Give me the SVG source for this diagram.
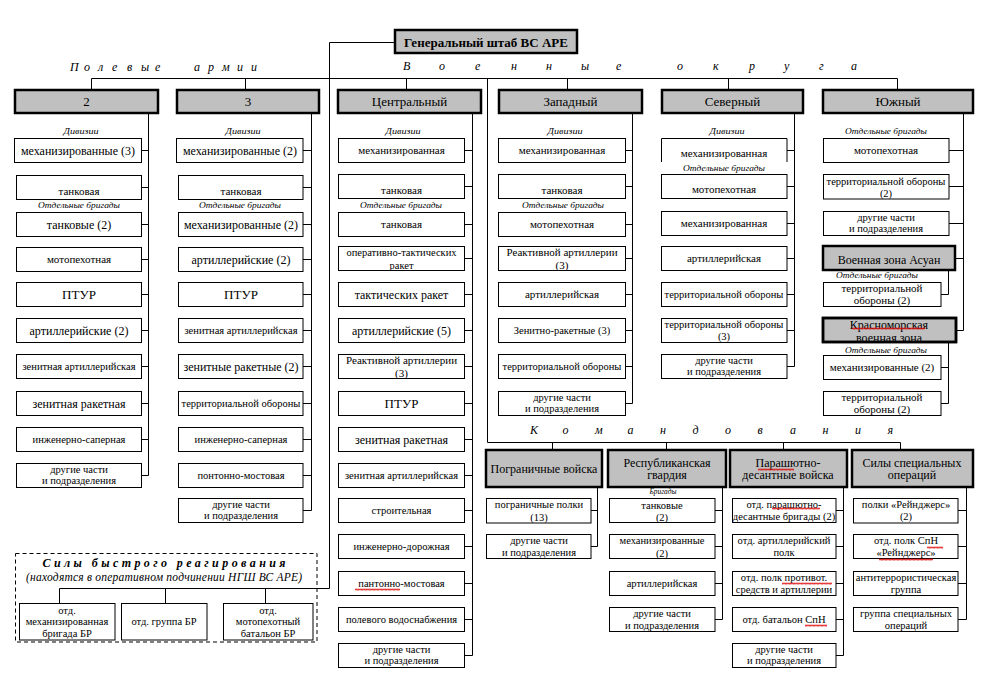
<svg xmlns="http://www.w3.org/2000/svg" width="995" height="689" viewBox="0 0 995 689" font-family="'Liberation Serif', 'Times New Roman', serif">
<style>
text{font-family:'Liberation Serif','Times New Roman',Times,serif;fill:#000;text-anchor:middle;font-size:11px}
.s{font-size:10.5px}
.m{font-size:12px}
.L{font-size:13px}
.hd{fill:#c0c0c0;stroke:#000;stroke-width:2.5}
.bx{fill:#fff;stroke:#000;stroke-width:1}
.cn{stroke:#000;stroke-width:1;fill:none}
.lb{font-style:italic;font-size:8.5px}
.sp{font-style:italic;font-size:12px;text-anchor:start}
.sq{fill:url(#sq)}
</style>
<defs>
<pattern id="sq" width="4" height="3" patternUnits="userSpaceOnUse"><path d="M0 2.5L1 0.7L2 2.5L3 0.7L4 2.5" stroke="#e00000" stroke-width="0.8" fill="none"/></pattern>
<clipPath id="k1"><rect x="338" y="246" width="127" height="24"/></clipPath>
<clipPath id="k2"><rect x="338" y="354" width="127" height="24"/></clipPath>
<clipPath id="k3"><rect x="498" y="246" width="128" height="24"/></clipPath>
<clipPath id="k4"><rect x="823" y="318" width="133" height="23"/></clipPath>
<clipPath id="k5"><rect x="486" y="498" width="105" height="25"/></clipPath>
<clipPath id="k6"><rect x="609" y="498" width="106" height="24"/></clipPath>
<clipPath id="k7"><rect x="609" y="534" width="106" height="24"/></clipPath>
</defs>
<rect width="995" height="689" fill="#fff"/>

<g id="connectors" class="cn">
<path d="M395 42.5H329.5V588.5H59.5V603M165.5 588.5V603M265.5 588.5V603"/>
<path d="M91.5 78.5H897.5M91.5 78.5V90M245.5 78.5V90M406.5 78.5V90M567.5 78.5V90M728.5 78.5V90M897.5 78.5V90"/>
<path d="M487.5 78.5V442.5H900.5M552.5 442.5V450M666.5 442.5V450M783.5 442.5V450M900.5 442.5V450"/>
<path d="M148.5 113V475.5M141.5 150.5H148.5M141.5 187.5H148.5M141.5 224.5H148.5M141.5 259.5H148.5M141.5 294.5H148.5M141.5 330.5H148.5M141.5 366.5H148.5M141.5 403.5H148.5M141.5 439.5H148.5M141.5 475.5H148.5"/>
<path d="M311.5 113V510.5M303 150.5H311.5M303 187.5H311.5M303 224.5H311.5M303 259.5H311.5M303 294.5H311.5M303 330.5H311.5M303 366.5H311.5M303 403.5H311.5M303 439.5H311.5M303 475.5H311.5M303 510.5H311.5"/>
<path d="M472.5 113V655.5M464.5 150.5H472.5M464.5 186.5H472.5M464.5 224.5H472.5M464.5 258.5H472.5M464.5 294.5H472.5M464.5 330.5H472.5M464.5 366.5H472.5M464.5 403.5H472.5M464.5 439.5H472.5M464.5 475.5H472.5M464.5 510.5H472.5M464.5 546.5H472.5M464.5 583.5H472.5M464.5 619.5H472.5M464.5 655.5H472.5"/>
<path d="M632.5 113V403.5M625.5 150.5H632.5M625.5 186.5H632.5M625.5 224.5H632.5M625.5 258.5H632.5M625.5 294.5H632.5M625.5 330.5H632.5M625.5 366.5H632.5M625.5 403.5H632.5"/>
<path d="M794.5 113V366.5M787 150.5H794.5M787 186.5H794.5M787 223.5H794.5M787 258.5H794.5M787 294.5H794.5M787 330.5H794.5M787 366.5H794.5"/>
<path d="M963.5 113V330.5M949 150.5H963.5M949 186.5H963.5M949 223.5H963.5M955 258.5H963.5M956 330.5H963.5"/>
<path d="M948.5 270V294.5H941M948.5 342V403.5H941M941 367.5H948.5"/>
<path d="M597.5 487V546.5M591 510.5H597.5M591 546.5H597.5"/>
<path d="M722.5 487V619.5M715 510.5H722.5M715 546.5H722.5M715 583.5H722.5M715 619.5H722.5"/>
<path d="M843.5 487V655.5M836 510.5H843.5M836 546.5H843.5M836 583.5H843.5M836 619.5H843.5M836 655.5H843.5"/>
<path d="M966.5 487V619.5M958 510.5H966.5M958 546.5H966.5M958 583.5H966.5M958 619.5H966.5"/>
</g>

<g id="labels">
<text class="sp" x="70 84 98 112 127 141 155 194 208 222 237 251" y="71">Полевыеармии</text>
<text class="sp" x="403 439 475 511 546 581 616 677 713 749 784 819 851" y="70">Военныеокруга</text>
<text class="sp" x="530 562.5 595 627.5 660 692.5 725 757.5 790 822.5 855 887.5" y="434">Командования</text>
</g>

<g id="gs"><rect class="hd" x="395" y="30" width="182" height="23"/><text x="486" y="46.5" style="font-weight:bold;font-size:13px">Генеральный штаб ВС АРЕ</text></g>

<g id="a2"><rect class="hd" x="15" y="90" width="143" height="23"/><text class="L" x="86.5" y="106">2</text></g>
<g id="a2-lbl"><text class="lb" x="81" y="134" textLength="35" lengthAdjust="spacingAndGlyphs">Дивизии</text><text class="lb" x="79" y="207.5" textLength="82" lengthAdjust="spacingAndGlyphs">Отдельные бригады</text></g>
<g id="a2-1"><rect class="bx" x="14.5" y="138.5" width="127" height="24"/><text class="m" x="78" y="154.5">механизированные  (3)</text></g>
<g id="a2-2"><rect class="bx" x="16.5" y="175.5" width="125" height="24"/><text x="79" y="194.5">танковая</text></g>
<g id="a2-3"><rect class="bx" x="16.5" y="212.5" width="125" height="24"/><text class="m" x="79" y="228.5">танковые (2)</text></g>
<g id="a2-4"><rect class="bx" x="16.5" y="247.5" width="125" height="24"/><text x="79" y="263">мотопехотная</text></g>
<g id="a2-5"><rect class="bx" x="16.5" y="282.5" width="125" height="24"/><text class="L" x="79" y="299">ПТУР</text></g>
<g id="a2-6"><rect class="bx" x="16.5" y="318.5" width="125" height="24"/><text class="m" x="79" y="334.5">артиллерийские  (2)</text></g>
<g id="a2-7"><rect class="bx" x="16.5" y="354.5" width="125" height="24"/><text class="s" x="79" y="370">зенитная артиллерийская</text></g>
<g id="a2-8"><rect class="bx" x="16.5" y="391.5" width="125" height="24"/><text class="m" x="79" y="407.5">зенитная  ракетная</text></g>
<g id="a2-9"><rect class="bx" x="16.5" y="427.5" width="125" height="24"/><text class="s" x="79" y="443">инженерно-саперная</text></g>
<g id="a2-10"><rect class="bx" x="16.5" y="463.5" width="125" height="24"/><text class="s" x="79" y="472.5">другие части</text><text class="s" x="79" y="484">и подразделения</text></g>

<g id="a3"><rect class="hd" x="177" y="90" width="142" height="23"/><text class="L" x="248" y="106">3</text></g>
<g id="a3-lbl"><text class="lb" x="243" y="134" textLength="35" lengthAdjust="spacingAndGlyphs">Дивизии</text><text class="lb" x="240" y="207.5" textLength="82" lengthAdjust="spacingAndGlyphs">Отдельные бригады</text></g>
<g id="a3-1"><rect class="bx" x="176.5" y="138.5" width="126.5" height="24"/><text class="m" x="240" y="154.5">механизированные  (2)</text></g>
<g id="a3-2"><rect class="bx" x="178.5" y="175.5" width="124.5" height="24"/><text x="241" y="194.5">танковая</text></g>
<g id="a3-3"><rect class="bx" x="178.5" y="212.5" width="124.5" height="24"/><text class="m" x="241" y="228.5">механизированные  (2)</text></g>
<g id="a3-4"><rect class="bx" x="178.5" y="247.5" width="124.5" height="24"/><text class="m" x="241" y="263.5">артиллерийские  (2)</text></g>
<g id="a3-5"><rect class="bx" x="178.5" y="282.5" width="124.5" height="24"/><text class="L" x="241" y="299">ПТУР</text></g>
<g id="a3-6"><rect class="bx" x="178.5" y="318.5" width="124.5" height="24"/><text class="s" x="241" y="334">зенитная артиллерийская</text></g>
<g id="a3-7"><rect class="bx" x="178.5" y="354.5" width="124.5" height="24"/><text class="m" x="241" y="370.5">зенитные  ракетные  (2)</text></g>
<g id="a3-8"><rect class="bx" x="178.5" y="391.5" width="124.5" height="24"/><text class="s" x="241" y="407">территориальной обороны</text></g>
<g id="a3-9"><rect class="bx" x="178.5" y="427.5" width="124.5" height="24"/><text class="s" x="241" y="443">инженерно-саперная</text></g>
<g id="a3-10"><rect class="bx" x="178.5" y="463.5" width="124.5" height="24"/><text class="s" x="241" y="479">понтонно-мостовая</text></g>
<g id="a3-11"><rect class="bx" x="178.5" y="498.5" width="124.5" height="24"/><text class="s" x="241" y="507.5">другие части</text><text class="s" x="241" y="519">и подразделения</text></g>

<g id="vo-c"><rect class="hd" x="338" y="90" width="143" height="23"/><text class="L" x="409.5" y="106">Центральный</text></g>
<g id="vo-c-lbl"><text class="lb" x="403" y="134" textLength="35" lengthAdjust="spacingAndGlyphs">Дивизии</text><text class="lb" x="401" y="207.5" textLength="82" lengthAdjust="spacingAndGlyphs">Отдельные бригады</text></g>
<g id="c-1"><rect class="bx" x="338.5" y="138.5" width="126" height="24"/><text x="401.5" y="154">механизированная</text></g>
<g id="c-2"><rect class="bx" x="338.5" y="174.5" width="126" height="24"/><text x="401.5" y="193.5">танковая</text></g>
<g id="c-3"><rect class="bx" x="338.5" y="212.5" width="126" height="24"/><text x="401.5" y="228">танковая</text></g>
<g id="c-4"><rect class="bx" x="338.5" y="246.5" width="126" height="24"/><g clip-path="url(#k1)"><text class="s" x="401.5" y="256">оперативно-тактических</text><text class="s" x="401.5" y="268.5">ракет</text></g></g>
<g id="c-5"><rect class="bx" x="338.5" y="282.5" width="126" height="24"/><text class="m" x="401.5" y="298.5">тактических  ракет</text></g>
<g id="c-6"><rect class="bx" x="338.5" y="318.5" width="126" height="24"/><text class="m" x="401.5" y="334.5">артиллерийские  (5)</text></g>
<g id="c-7"><rect class="bx" x="338.5" y="354.5" width="126" height="24"/><g clip-path="url(#k2)"><text x="401.5" y="364">Реактивной артиллерии</text><text x="401.5" y="376.5">(3)</text></g></g>
<g id="c-8"><rect class="bx" x="338.5" y="391.5" width="126" height="24"/><text class="L" x="401.5" y="408">ПТУР</text></g>
<g id="c-9"><rect class="bx" x="338.5" y="427.5" width="126" height="24"/><text class="m" x="401.5" y="443.5">зенитная  ракетная</text></g>
<g id="c-10"><rect class="bx" x="338.5" y="463.5" width="126" height="24"/><text class="s" x="401.5" y="479">зенитная артиллерийская</text></g>
<g id="c-11"><rect class="bx" x="338.5" y="498.5" width="126" height="24"/><text class="s" x="401.5" y="514">строительная</text></g>
<g id="c-12"><rect class="bx" x="338.5" y="534.5" width="126" height="24"/><text class="s" x="401.5" y="550">инженерно-дорожная</text></g>
<g id="c-13"><rect class="bx" x="338.5" y="571.5" width="126" height="24"/><text class="s" x="401.5" y="587">пантонно-мостовая</text></g>
<g id="c-14"><rect class="bx" x="338.5" y="607.5" width="126" height="24"/><text class="s" x="401.5" y="623">полевого водоснабжения</text></g>
<g id="c-15"><rect class="bx" x="338.5" y="643.5" width="126" height="24"/><text class="s" x="401.5" y="652.5">другие части</text><text class="s" x="401.5" y="664">и подразделения</text></g>

<g id="vo-w"><rect class="hd" x="499" y="90" width="143" height="23"/><text class="L" x="570.5" y="106">Западный</text></g>
<g id="vo-w-lbl"><text class="lb" x="565" y="134" textLength="35" lengthAdjust="spacingAndGlyphs">Дивизии</text><text class="lb" x="563" y="207.5" textLength="82" lengthAdjust="spacingAndGlyphs">Отдельные бригады</text></g>
<g id="w-1"><rect class="bx" x="498.5" y="138.5" width="127" height="24"/><text x="562" y="154">механизированная</text></g>
<g id="w-2"><rect class="bx" x="498.5" y="174.5" width="127" height="24"/><text x="562" y="193.5">танковая</text></g>
<g id="w-3"><rect class="bx" x="498.5" y="212.5" width="127" height="24"/><text x="562" y="228">мотопехотная</text></g>
<g id="w-4"><rect class="bx" x="498.5" y="246.5" width="127" height="24"/><g clip-path="url(#k3)"><text x="562" y="256">Реактивной артиллерии</text><text x="562" y="268.5">(3)</text></g></g>
<g id="w-5"><rect class="bx" x="498.5" y="282.5" width="127" height="24"/><text x="562" y="298">артиллерийская</text></g>
<g id="w-6"><rect class="bx" x="498.5" y="318.5" width="127" height="24"/><text class="s" x="562" y="334">Зенитно-ракетные (3)</text></g>
<g id="w-7"><rect class="bx" x="498.5" y="354.5" width="127" height="24"/><text class="s" x="562" y="370">территориальной обороны</text></g>
<g id="w-8"><rect class="bx" x="498.5" y="391.5" width="127" height="24"/><text class="s" x="562" y="400.5">другие части</text><text class="s" x="562" y="412">и подразделения</text></g>

<g id="vo-n"><rect class="hd" x="662" y="90" width="141" height="23"/><text class="L" x="732.5" y="106">Северный</text></g>
<g id="vo-n-lbl"><text class="lb" x="727" y="134" textLength="35" lengthAdjust="spacingAndGlyphs">Дивизии</text><text class="lb" x="724" y="170.5" textLength="82" lengthAdjust="spacingAndGlyphs">Отдельные бригады</text></g>
<g id="n-1"><path class="bx" d="M661.5 162V138.5H787V162"/><text x="724" y="157">механизированная</text></g>
<g id="n-2"><rect class="bx" x="661.5" y="174.5" width="125.5" height="24"/><text x="724" y="193">мотопехотная</text></g>
<g id="n-3"><rect class="bx" x="661.5" y="211.5" width="125.5" height="24"/><text x="724" y="227">механизированная</text></g>
<g id="n-4"><rect class="bx" x="661.5" y="246.5" width="125.5" height="24"/><text x="724" y="262">артиллерийская</text></g>
<g id="n-5"><rect class="bx" x="661.5" y="282.5" width="125.5" height="24"/><text class="s" x="724" y="298">территориальной обороны</text></g>
<g id="n-6"><rect class="bx" x="661.5" y="318.5" width="125.5" height="24"/><text class="s" x="724" y="327.5">территориальной обороны</text><text class="s" x="724" y="340">(3)</text></g>
<g id="n-7"><rect class="bx" x="661.5" y="354.5" width="125.5" height="24"/><text class="s" x="724" y="363.5">другие части</text><text class="s" x="724" y="375">и подразделения</text></g>

<g id="vo-s"><rect class="hd" x="823" y="90" width="150" height="23"/><text class="L" x="898" y="106">Южный</text></g>
<g id="vo-s-lbl"><text class="lb" x="886" y="134" textLength="82" lengthAdjust="spacingAndGlyphs">Отдельные бригады</text></g>
<g id="s-1"><rect class="bx" x="823.5" y="138.5" width="125.5" height="24"/><text x="886" y="154">мотопехотная</text></g>
<g id="s-2"><rect class="bx" x="823.5" y="174.5" width="125.5" height="24.5"/><text class="s" x="886" y="184.5">территориальной обороны</text><text class="s" x="886" y="197">(2)</text></g>
<g id="s-3"><rect class="bx" x="823.5" y="211.5" width="125.5" height="24"/><text class="s" x="886" y="220.5">другие части</text><text class="s" x="886" y="232">и подразделения</text></g>
<g id="vz-asuan"><rect class="hd" x="823" y="246" width="132" height="24"/><text class="m" x="889" y="264">Военная зона Асуан</text></g>
<g id="vz-asuan-lbl"><text class="lb" x="877" y="277.5" textLength="82" lengthAdjust="spacingAndGlyphs">Отдельные бригады</text></g>
<g id="as-1"><rect class="bx" x="823.5" y="282.5" width="117.5" height="24"/><text x="882" y="291.5">территориальной</text><text x="882" y="303.5">обороны (2)</text></g>
<g id="vz-red"><rect class="hd" x="823" y="318" width="133" height="24"/><g clip-path="url(#k4)"><text class="m" x="889" y="328.5">Красноморская</text><text class="m" x="889" y="342">военная зона</text></g><rect class="hd" x="823" y="318" width="133" height="24" style="fill:none"/></g>
<g id="vz-red-lbl"><text class="lb" x="886" y="353" textLength="82" lengthAdjust="spacingAndGlyphs">Отдельные бригады</text></g>
<g id="rs-1"><rect class="bx" x="823.5" y="355.5" width="117.5" height="24"/><text x="882" y="371">механизированные (2)</text></g>
<g id="rs-2"><rect class="bx" x="823.5" y="391.5" width="117.5" height="24"/><text x="882" y="400.5">территориальной</text><text x="882" y="412.5">обороны (2)</text></g>

<g id="cm-border"><rect class="hd" x="486" y="450" width="116" height="37"/><text class="m" x="544" y="473">Пограничные  войска</text></g>
<g id="b-1"><rect class="bx" x="486.5" y="498.5" width="104.5" height="24.5"/><g clip-path="url(#k5)"><text class="s" x="539" y="508">пограничные полки</text><text class="s" x="539" y="521">(13)</text></g></g>
<g id="b-2"><rect class="bx" x="486.5" y="534.5" width="104.5" height="24"/><text class="s" x="539" y="543.5">другие части</text><text class="s" x="539" y="555.5">и подразделения</text></g>

<g id="cm-guard"><rect class="hd" x="608" y="450" width="118" height="37"/><text class="m" x="667" y="466.5">Республиканская</text><text class="m" x="667" y="479">гвардия</text></g>
<g id="cm-guard-lbl"><text class="lb" x="663" y="494" textLength="27" lengthAdjust="spacingAndGlyphs">Бригады</text></g>
<g id="g-1"><rect class="bx" x="609.5" y="498.5" width="105.5" height="24"/><g clip-path="url(#k6)"><text class="s" x="662" y="508.5">танковые</text><text class="s" x="662" y="521">(2)</text></g></g>
<g id="g-2"><rect class="bx" x="609.5" y="534.5" width="105.5" height="24"/><g clip-path="url(#k7)"><text class="s" x="662" y="543.5">механизированные</text><text class="s" x="662" y="556.5">(2)</text></g></g>
<g id="g-3"><rect class="bx" x="609.5" y="571.5" width="105.5" height="24"/><text class="s" x="662" y="587">артиллерийская</text></g>
<g id="g-4"><rect class="bx" x="609.5" y="607.5" width="105.5" height="24"/><text class="s" x="662" y="616.5">другие части</text><text class="s" x="662" y="628.5">и подразделения</text></g>

<g id="cm-para"><rect class="hd" x="730" y="450" width="117" height="37"/><text class="m" x="788" y="466.5">Парашютно-</text><text class="m" x="788" y="479">десантные  войска</text></g>
<g id="p-1"><rect class="bx" x="732.5" y="498.5" width="103.5" height="24"/><text class="s" x="784" y="507.5">отд. парашютно-</text><text class="s" x="784" y="519.5">десантные бригады (2)</text></g>
<g id="p-2"><rect class="bx" x="732.5" y="534.5" width="103.5" height="24"/><text class="s" x="784" y="543.5">отд. артиллерийский</text><text class="s" x="784" y="555.5">полк</text></g>
<g id="p-3"><rect class="bx" x="732.5" y="571.5" width="103.5" height="24"/><text class="s" x="784" y="580.5">отд. полк противот.</text><text class="s" x="784" y="592.5">средств и артиллерии</text></g>
<g id="p-4"><rect class="bx" x="732.5" y="607.5" width="103.5" height="24"/><text class="s" x="784" y="623">отд. батальон СпН</text></g>
<g id="p-5"><rect class="bx" x="732.5" y="643.5" width="103.5" height="24"/><text class="s" x="784" y="652.5">другие части</text><text class="s" x="784" y="664">и подразделения</text></g>

<g id="cm-sso"><rect class="hd" x="852" y="450" width="121" height="37"/><text class="m" x="912" y="466.5">Силы специальных</text><text class="m" x="912" y="479">операций</text></g>
<g id="o-1"><rect class="bx" x="853.5" y="498.5" width="104.5" height="24.5"/><text class="s" x="906" y="507.5">полки «Рейнджерс»</text><text class="s" x="906" y="519.5">(2)</text></g>
<g id="o-2"><rect class="bx" x="853.5" y="534.5" width="104.5" height="24"/><text class="s" x="906" y="543.5">отд. полк СпН</text><text class="s" x="906" y="555.5">«Рейнджерс»</text></g>
<g id="o-3"><rect class="bx" x="853.5" y="571.5" width="104.5" height="24"/><text class="s" x="906" y="580.5">антитеррористическая</text><text class="s" x="906" y="592.5">группа</text></g>
<g id="o-4"><rect class="bx" x="853.5" y="607.5" width="104.5" height="24"/><text class="s" x="906" y="616.5">группа специальных</text><text class="s" x="906" y="628.5">операций</text></g>

<g id="rr">
<rect x="15.5" y="553.5" width="301.5" height="88.5" fill="none" stroke="#000" stroke-width="1" stroke-dasharray="4 3"/>
<text x="164" y="566.5" textLength="243" lengthAdjust="spacing" style="font-weight:bold;font-style:italic;font-size:12px">Силы быстрого реагирования</text>
<text x="164" y="581" textLength="276" lengthAdjust="spacing" style="font-style:italic;font-size:11.5px">(находятся в оперативном подчинении НГШ ВС АРЕ)</text>
</g>
<g id="rr-1"><rect class="bx" x="19.5" y="603.5" width="95.5" height="36.5"/><text class="s" x="67" y="613.5">отд.</text><text class="s" x="67" y="625">механизированная</text><text class="s" x="67" y="636.5">бригада БР</text></g>
<g id="rr-2"><rect class="bx" x="121.5" y="603.5" width="85.5" height="36.5"/><text class="s" x="164" y="625">отд. группа БР</text></g>
<g id="rr-3"><rect class="bx" x="223.5" y="603.5" width="89.5" height="36.5"/><text class="s" x="268" y="613.5">отд.</text><text class="s" x="268" y="625">мотопехотный</text><text class="s" x="268" y="636.5">батальон БР</text></g>

<g id="spellcheck">
<rect class="sq" x="852" y="327" width="73" height="3"/>
<rect class="sq" x="758" y="468" width="36" height="3"/>
<rect class="sq" x="355" y="588" width="45" height="3"/>
<rect class="sq" x="772" y="507" width="48" height="3"/>
<rect class="sq" x="782" y="582" width="50" height="3"/>
<rect class="sq" x="805" y="624" width="22" height="3"/>
<rect class="sq" x="927" y="546" width="16" height="3"/>
<rect class="sq" x="879" y="558" width="54" height="3"/>
</g>
</svg>
